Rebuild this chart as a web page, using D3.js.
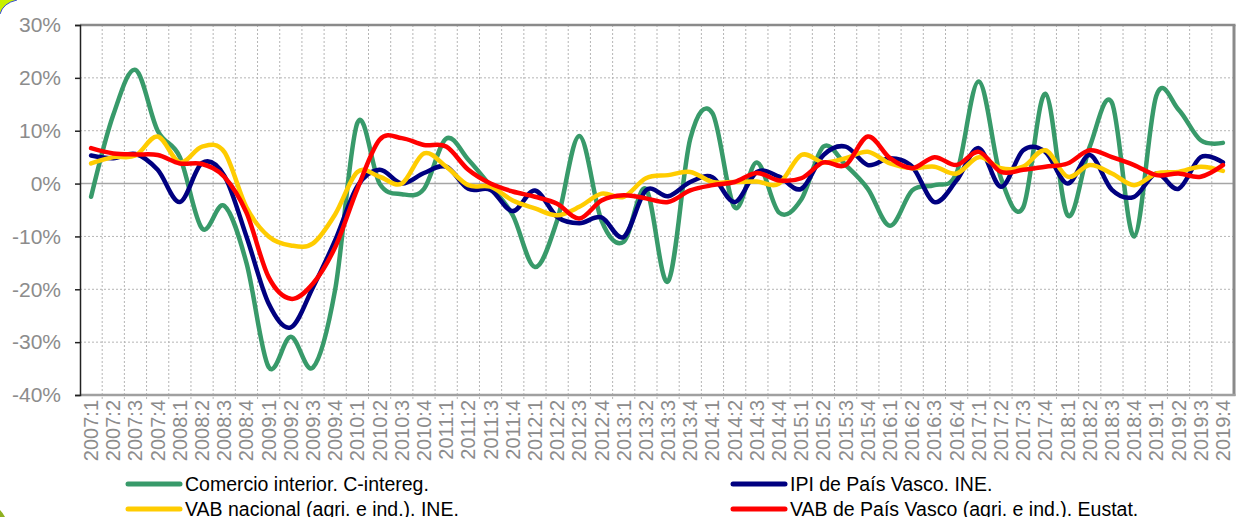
<!DOCTYPE html>
<html>
<head>
<meta charset="utf-8">
<script src="https://cdn.jsdelivr.net/npm/d3@7"></script>
<style>
  body { margin: 0; background: #fff; }
  svg { display: block; }
  text { font-family: "Liberation Sans", Arial, sans-serif; }
</style>
</head>
<body>
<svg id="chart" width="1242" height="517"></svg>
<script>
// trimestres 2007:1 .. 2019:4
var quarters = [];
for (var yr = 2007; yr <= 2019; yr++) {
  for (var q = 1; q <= 4; q++) quarters.push(yr + ":" + q);
}

var yTicks = [-40, -30, -20, -10, 0, 10, 20, 30];

var comercio = [-2.5, 13, 21.5, 10, 5, -8.5, -4.2, -15, -34.7, -29, -34.8, -20,
  11.5, 0, -2, -1, 8.5, 4.5, -0.5, -6, -15.8, -7, 9, -7,
  -11, -1, -18.5, 8.5, 13.3, -4.5, 4, -5.5, -3, 7, 3.5, -1,
  -8, -1.3, -0.3, 2, 19.3, 1, -4.5, 17, -6, 7, 15.3, -10,
  16.6, 14, 8.2, 7.7];
var ipi = [5.3, 4.8, 5.6, 2.6, -3.5, 3.9, 1.5, -10, -22.7, -27.2, -19.6, -10.7,
  -0.5, 2.6, 0, 2, 3.2, -1, -1.2, -5.2, -1.3, -6.3, -7.5, -6.4,
  -10.1, -1.3, -2.4, 0.3, 1.2, -3.5, 2.2, 1.3, -1, 5.4, 7, 3.5,
  4.8, 3.2, -3.5, 0.6, 6.7, -0.6, 6.3, 6, 0, 5.4, -1.2, -2.5,
  1.9, -1, 5, 4];
var vabNac = [3.8, 5, 5.3, 8.9, 4, 7, 6, -4.5, -10, -11.7, -11.3, -5.8,
  2.2, 1.3, 0, 5.7, 3.2, -0.3, -0.6, -3.2, -4.7, -6, -4.4, -1.9,
  -2.5, 1, 1.6, 2.2, 0.3, 0.3, 0.4, 0, 5.4, 4, 4.8, 6,
  3.8, 2.9, 3.2, 1.9, 5, 2.9, 3.2, 6.3, 1.3, 3.5, 1.9, -0.3,
  1.9, 2.2, 3.2, 2.4];
var vabPV = [6.7, 5.7, 5.5, 5.4, 3.8, 3.7, 1.3, -5.5, -17.7, -21.8, -18.9, -12,
  -1, 8.3, 8.6, 7.3, 7, 2.6, 0, -1.5, -2.5, -3.8, -6.6, -3.2,
  -2.2, -2.8, -3.5, -1.3, -0.3, 0.3, 2, 0.6, 1, 4, 3.5, 8.9,
  4.8, 2.9, 5, 3.5, 6, 2.2, 2.6, 3.2, 3.8, 6.3, 5, 3.5,
  1.6, 1.9, 1.3, 3.5];

var seriesNames = ["Comercio interior. C-intereg.", "IPI de País Vasco. INE.",
  "VAB nacional (agri. e ind.). INE.", "VAB de País Vasco (agri. e ind.). Eustat."];
var seriesColors = ["#389a6a", "#000080", "#ffcc00", "#ff0000"];
var seriesData = [comercio, ipi, vabNac, vabPV];

var svg = d3.select("#chart");
var pLeft = 80, pRight = 1234, pTop = 25, pBottom = 395;

var x = d3.scaleBand().domain(quarters).range([pLeft, pRight]).padding(0);
var y = d3.scaleLinear().domain([-40, 30]).range([pBottom, pTop]);

// esquina verde
svg.append("path")
  .attr("d", "M0,0 H17 Q3,3 0,14 Z")
  .attr("fill", "#c8f000");
svg.append("path")
  .attr("d", "M17,0 Q3,3 0,14")
  .attr("fill", "none").attr("stroke", "#3a4fd0").attr("stroke-width", 1);
svg.append("path")
  .attr("d", "M0,510 Q3,513 5,517 H0 Z")
  .attr("fill", "#8fb020");

// rejilla horizontal
svg.append("g")
  .selectAll("line")
  .data(yTicks.filter(function(d){ return d !== 30 && d !== -40 && d !== 0; }))
  .enter().append("line")
    .attr("x1", pLeft).attr("x2", pRight)
    .attr("y1", function(d){ return y(d); })
    .attr("y2", function(d){ return y(d); })
    .attr("stroke", "#b5b5b5").attr("stroke-dasharray", "2,2");

// rejilla vertical en los limites de cada trimestre
svg.append("g")
  .selectAll("line")
  .data(quarters.slice(1))
  .enter().append("line")
    .attr("x1", function(d){ return x(d); })
    .attr("x2", function(d){ return x(d); })
    .attr("y1", pTop).attr("y2", pBottom + 4)
    .attr("stroke", "#b5b5b5").attr("stroke-dasharray", "2,2");

// linea del 0%
svg.append("line")
  .attr("x1", pLeft).attr("x2", pRight)
  .attr("y1", y(0)).attr("y2", y(0))
  .attr("stroke", "#a6a6a6").attr("stroke-width", 1.5);

// marco
svg.append("line").attr("x1", pLeft).attr("x2", pRight + 1.5)
  .attr("y1", pTop).attr("y2", pTop)
  .attr("stroke", "#8a8a8a").attr("stroke-width", 2.5);
svg.append("line").attr("x1", pRight).attr("x2", pRight)
  .attr("y1", pTop).attr("y2", pBottom + 1)
  .attr("stroke", "#8a8a8a").attr("stroke-width", 3);
svg.append("line").attr("x1", pLeft).attr("x2", pRight + 1.5)
  .attr("y1", pBottom).attr("y2", pBottom)
  .attr("stroke", "#a0a0a0").attr("stroke-width", 2.5);

// eje Y
var yAxis = d3.axisLeft(y).tickValues(yTicks).tickSize(5).tickPadding(14)
  .tickFormat(function(d){ return d + "%"; });
var gy = svg.append("g").attr("transform", "translate(" + pLeft + ",0)").call(yAxis);
gy.select(".domain").attr("stroke", "#222").attr("stroke-width", 1.5);
gy.selectAll(".tick line").attr("stroke", "#222").attr("stroke-width", 1.5);
gy.selectAll(".tick text")
  .attr("fill", "#8c8c8c")
  .style("font-size", "21px")
  .style("font-family", "'Liberation Sans', Arial, sans-serif");

// etiquetas X
svg.append("g")
  .selectAll("text")
  .data(quarters)
  .enter().append("text")
    .attr("transform", function(d){
      return "translate(" + (x(d) + x.bandwidth() / 2 + 7) + "," + (pBottom + 5) + ") rotate(-90)";
    })
    .attr("text-anchor", "end")
    .attr("fill", "#8c8c8c")
    .style("font-size", "20px")
    .text(function(d){ return d; });

// series
var line = d3.line()
  .x(function(d, i){ return x(quarters[i]) + x.bandwidth() / 2; })
  .y(function(d){ return y(d); })
  .curve(d3.curveCardinal.tension(0));

svg.append("g")
  .selectAll("path")
  .data(seriesData)
  .enter().append("path")
    .attr("d", line)
    .attr("fill", "none")
    .attr("stroke", function(d, i){ return seriesColors[i]; })
    .attr("stroke-width", 4.5)
    .attr("stroke-linejoin", "round")
    .attr("stroke-linecap", "round");

// leyenda
var legendPos = [[128, 484], [733, 484], [128, 509], [733, 509]];
var leg = svg.append("g")
  .selectAll("g")
  .data(seriesNames)
  .enter().append("g")
    .attr("transform", function(d, i){ return "translate(" + legendPos[i][0] + "," + legendPos[i][1] + ")"; });
leg.append("line")
  .attr("x1", 0).attr("x2", 52)
  .attr("stroke", function(d, i){ return seriesColors[i]; })
  .attr("stroke-width", 5)
  .attr("stroke-linecap", "round");
leg.append("text")
  .attr("x", 57).attr("dy", "0.36em")
  .attr("fill", "#000")
  .style("font-size", "19.5px")
  .text(function(d){ return d; });
</script>
</body>
</html>
